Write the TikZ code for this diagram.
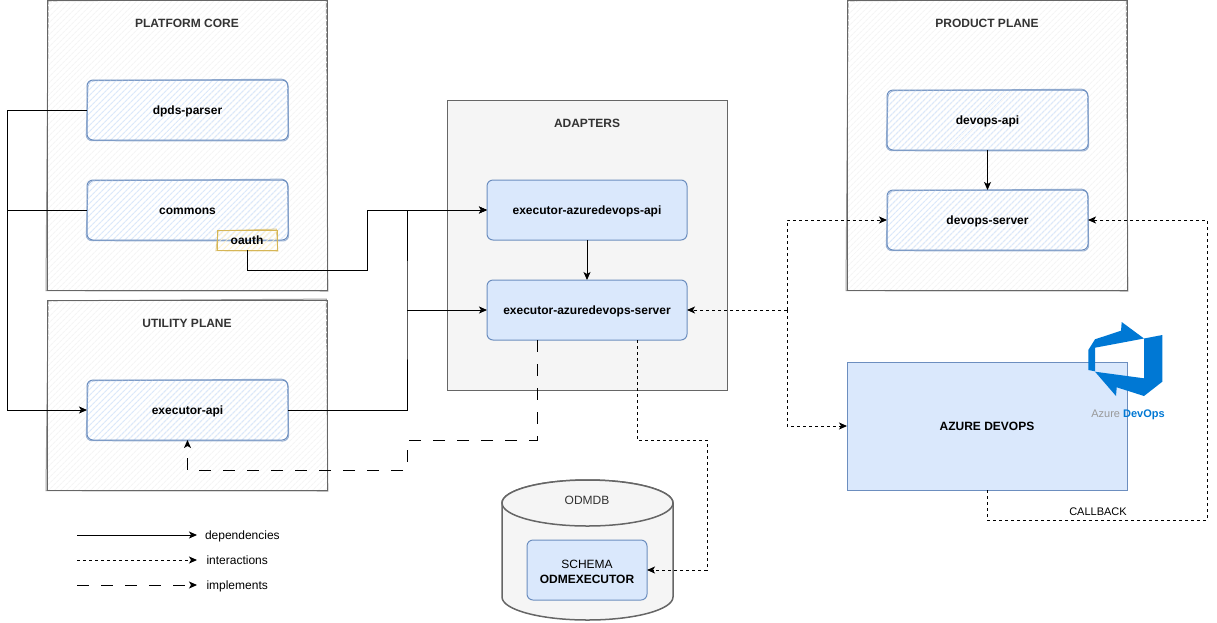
\documentclass[tikz,border=0pt]{standalone}
\usepackage{xcolor}
\usepackage{fontspec}
\setmainfont{Liberation Sans}
\usetikzlibrary{positioning,arrows.meta,patterns.meta}
\definecolor{planeline}{HTML}{666666}
\definecolor{planefill}{HTML}{F5F5F5}
\definecolor{modline}{HTML}{6C8EBF}
\definecolor{modfill}{HTML}{DAE8FC}
\definecolor{noteline}{HTML}{D6B656}
\definecolor{notefill}{HTML}{FFF2CC}
\definecolor{devopsblue}{HTML}{0078D4}
\definecolor{darktext}{HTML}{333333}
\tikzset{
  txt/.style={font=\fontsize{12}{14}\selectfont, inner sep=0pt, text height=10pt, text depth=2pt},
  boldtxt/.style={font=\fontsize{12}{14}\selectfont\bfseries, text height=10pt, text depth=2pt},
  hachure/.style={pattern={Lines[angle=45,distance=4pt,line width=1.1pt]}},
  % second stroke, a little off the first one
  sketched/.style={hachure, append after command={\pgfextra{
    \draw[#1, opacity=.65] ([shift={(1.2,.8)}]\tikzlastnode.north west) -- ([shift={(-.6,-.9)}]\tikzlastnode.north east) -- ([shift={(.8,1)}]\tikzlastnode.south east) -- ([shift={(-1,.7)}]\tikzlastnode.south west) -- cycle;
  }}},
  planebox/.style={draw=planeline, sketched={planeline, line width=1pt}, pattern color=planefill, minimum width=280pt, inner sep=0pt, outer sep=0pt},
  planetitle/.style={inner sep=0pt, font=\fontsize{12}{14}\selectfont\bfseries, text=darktext},
  modbox/.style={draw=modline, sketched={modline, rounded corners=6pt, line width=1pt}, pattern color=modfill, rounded corners=6pt, minimum width=201pt, minimum height=60pt, boldtxt, inner sep=0pt, outer sep=0pt},
  plainbox/.style={draw=modline, fill=modfill, rounded corners=6pt, minimum width=200pt, minimum height=60pt, boldtxt, inner sep=0pt, outer sep=0pt},
  tip/.style={-{Stealth[length=8pt,width=7pt,inset=2pt]}},
  dep/.style={tip},
  interact/.style={tip, dash pattern=on 3pt off 3pt},
  impl/.style={tip, dash pattern=on 12pt off 12pt}
}
\begin{document}
\begin{tikzpicture}[x=1pt, y=-1pt, on grid, line width=1pt]
\useasboundingbox (0,0) rectangle (1217,622);
% planes
\node[planebox, minimum height=290pt] (core) at (187,145) {};
\node[planebox, minimum height=190pt] (utility) at (187,395) {};
\node[planebox, minimum height=290pt] (product) at (987,145) {};
\node[draw=planeline, fill=planefill, minimum width=280pt, minimum height=290pt, outer sep=0pt] (adapters) at (587,245) {};
\node[planetitle, below = 18.7pt of core.north] (coretitle) {PLATFORM CORE};
\node[planetitle, below = 18.7pt of utility.north] (utilitytitle) {UTILITY PLANE};
\node[planetitle, below = 18.7pt of product.north] (producttitle) {PRODUCT PLANE};
\node[planetitle, below = 18.7pt of adapters.north] (adapterstitle) {ADAPTERS};
% modules
\node[modbox] (parser) at (187.5,110) {dpds-parser};
\node[modbox, below = 100pt of parser] (commons) {commons};
\node[draw=noteline, sketched={noteline, line width=1pt}, pattern color=notefill, minimum width=60pt, minimum height=20pt, boldtxt, inner sep=0pt, outer sep=0pt] (oauth) at (247,240) {oauth};
\node[modbox] (execapi) at (187.5,410) {executor-api};
\node[modbox] (devopsapi) at (987.5,120) {devops-api};
\node[modbox, below = 100pt of devopsapi] (devopsserver) {devops-server};
\node[plainbox] (adapterapi) at (587,210) {executor-azuredevops-api};
\node[plainbox, below = 100pt of adapterapi] (adapterserver) {executor-azuredevops-server};
% azure devops
\node[draw=modline, fill=modfill, minimum width=280pt, minimum height=128pt, boldtxt, inner sep=0pt, outer sep=0pt] (azure) at (987,426) {AZURE DEVOPS};
\fill[devopsblue] (1121.7,322) -- (1144,338.5) -- (1095,347.7) -- (1095,371.3) -- (1088.3,370) -- (1088.3,350) -- (1095,339.3) -- (1121,330.7) -- cycle;
\fill[devopsblue] (1144,338.5) -- (1162.3,335) -- (1162.3,381.7) -- (1144,396) -- (1116.7,387.3) -- (1116,396) -- (1095,371.7) -- (1144,378.3) -- cycle;
\node[font=\fontsize{11}{13}\selectfont, inner sep=0pt] (azurelogo) at (1128,414.5) {\textcolor{gray!80}{Azure} \textcolor{devopsblue}{\bfseries DevOps}};
% database
\draw[draw=planeline, fill=planefill, line width=1.5pt] (502,503) -- (502,597) arc[x radius=85.5pt, y radius=23pt, start angle=180, end angle=360] -- (673,503) arc[x radius=85.5pt, y radius=23pt, start angle=0, end angle=180] -- cycle;
\draw[draw=planeline, fill=planefill, line width=1.5pt] (587.5,503) ellipse[x radius=85.5pt, y radius=23pt];
\node[txt, text=darktext] (odmdb) at (587,500) {ODMDB};
\node[draw=modline, fill=modfill, rounded corners=6pt, minimum width=120pt, minimum height=60pt, align=center, font=\fontsize{12}{15}\selectfont, inner sep=0pt, outer sep=0pt] (schema) at (587,570) {\rule{0pt}{12pt}SCHEMA\\\textbf{ODMEXECUTOR}};
% dependencies
\coordinate (leftbus) at (7,410);
\coordinate (oauthbend) at (367,270);
\coordinate (rightbus) at (407,310);
\draw[dep] (parser.west) -| (leftbus) -- (execapi.west);
\draw (commons.west) -- (commons.west -| leftbus);
\draw[dep] (oauth.south) |- (oauthbend) |- (adapterapi.west);
\draw[dep] (execapi.east) -| (rightbus) |- (adapterapi.west);
\draw[dep] (rightbus) -- (adapterserver.west);
\draw[dep] (adapterapi) -- (adapterserver);
\draw[dep] (devopsapi) -- (devopsserver);
% interactions
\coordinate (midbus) at (787,310);
\coordinate (dbbend) at (707,440);
\coordinate (callbackbend) at (1207,520);
\draw[interact] (midbus) -- (adapterserver.east);
\draw[interact] (midbus) |- (devopsserver.west);
\draw[interact] (midbus) |- (azure.west);
\draw[interact] ([xshift=50pt]adapterserver.south) |- (dbbend) |- (schema.east);
\draw[interact] (azure.south) |- (callbackbend) |- (devopsserver.east);
\node[font=\fontsize{11}{13}\selectfont, inner sep=0pt] (callback) at (1098,512) {CALLBACK};
% implements
\coordinate (implbendA) at (407,440);
\coordinate (implbendB) at (407,470);
\draw[impl] ([xshift=-50pt]adapterserver.south) |- (implbendA) -- (implbendB) -| (execapi.south);
% legend
\coordinate (legA) at (77,535);
\coordinate (legB) at (77,560);
\coordinate (legC) at (77,585);
\node[txt, anchor=west] (depnote) at (204.5,535) {dependencies};
\node[txt, anchor=west] (internote) at (206,560) {interactions};
\node[txt, anchor=west] (implnote) at (206,585) {implements};
\draw[dep] (legA) -- ++(120,0);
\draw[interact] (legB) -- ++(120,0);
\draw[impl] (legC) -- ++(120,0);
\end{tikzpicture}
\end{document}
